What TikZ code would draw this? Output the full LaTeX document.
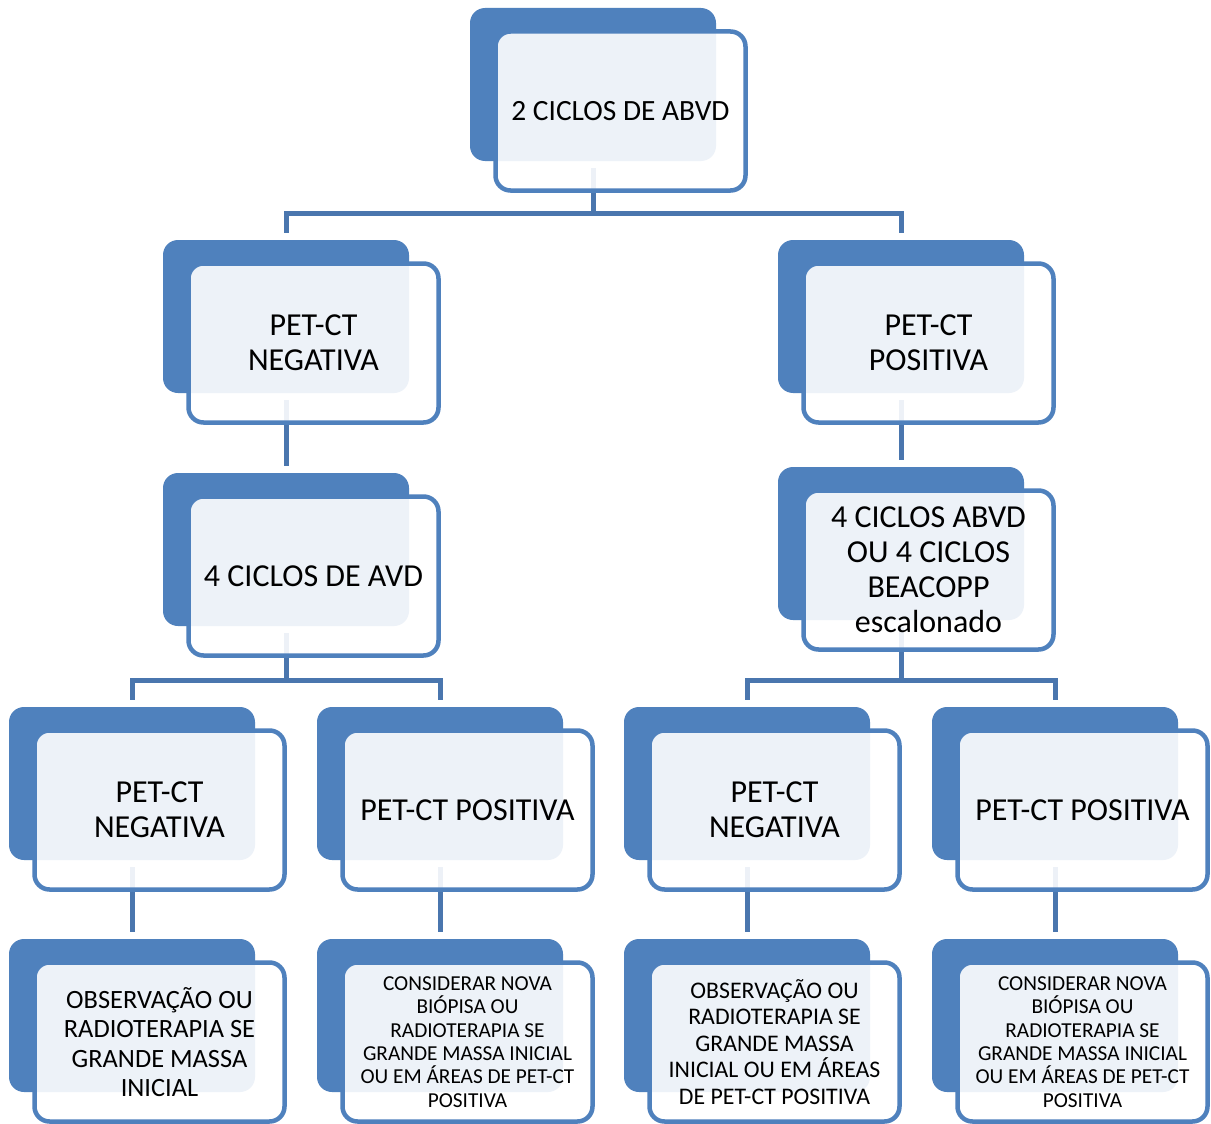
\documentclass[tikz,border=0pt]{standalone}
\usepackage{fontspec}
\setmainfont{Carlito}
\usetikzlibrary{calc}

\definecolor{accent}{HTML}{4F81BD}
\definecolor{linkc}{HTML}{4A76AE}

\tikzset{
  backbox/.style={shape=rectangle, fill=accent, rounded corners=15pt,
    minimum width=246pt, minimum height=153pt, inner sep=0pt, outer sep=0pt,
    anchor=north west},
  frontbox/.style={shape=rectangle, draw=accent, line width=4.5pt,
    fill=white, fill opacity=0.9, draw opacity=1, text opacity=1,
    rounded corners=15pt, minimum width=250pt, minimum height=159pt,
    inner sep=2pt, outer sep=0pt, align=flush center, text width=244pt},
  conn/.style={draw=linkc, line width=5pt},
  toptext/.style={font=\fontsize{29.4}{35}\selectfont},
  bigtext/.style={font=\fontsize{32}{35}\selectfont},
  midtext/.style={font=\fontsize{26.4}{29.3}\selectfont},
  smalltext/.style={font=\fontsize{23.8}{26.5}\selectfont},
  tinytext/.style={font=\fontsize{21.3}{23.4}\selectfont},
}

\begin{document}
\begin{tikzpicture}[x=1pt, y=-1pt]
  \useasboundingbox (0,0) rectangle (1211,1124);
  \fill[white] (0,0) rectangle (1211,1124);

  % back plates
  \node[backbox] (b0)  at (470,8)   {};
  \node[backbox] (b1l) at (163,240) {};
  \node[backbox] (b1r) at (778,240) {};
  \node[backbox] (b2l) at (163,473) {};
  \node[backbox] (b2r) at (778,467) {};
  \node[backbox] (b3a) at (9,707)   {};
  \node[backbox] (b3b) at (317,707) {};
  \node[backbox] (b3c) at (624,707) {};
  \node[backbox] (b3d) at (932,707) {};
  \node[backbox] (b4a) at (9,939)   {};
  \node[backbox] (b4b) at (317,939) {};
  \node[backbox] (b4c) at (624,939) {};
  \node[backbox] (b4d) at (932,939) {};

  % connectors (underneath the front cards)
  \foreach \p/\c in {b0/b1l, b0/b1r, b2l/b3a, b2l/b3b, b2r/b3c, b2r/b3d}
    \draw[conn] ($(\p.south)+(0,7)$) |- ($(\c.north)+(0,-27)$) -- ($(\c.north)+(0,-7)$);
  \foreach \p/\c in {b1l/b2l, b1r/b2r, b3a/b4a, b3b/b4b, b3c/b4c, b3d/b4d}
    \draw[conn] ($(\p.south)+(0,7)$) -- ($(\c.north)+(0,-7)$);

  % front cards with the texts
  \node[frontbox, toptext] (f0)  at ($(b0.north west)+(150.5,103)$)  {2 CICLOS DE ABVD};
  \node[frontbox, bigtext] (f1l) at ($(b1l.north west)+(150.5,103)$) {PET-CT\\NEGATIVA};
  \node[frontbox, bigtext] (f1r) at ($(b1r.north west)+(150.5,103)$) {PET-CT\\POSITIVA};
  \node[frontbox, bigtext] (f2l) at ($(b2l.north west)+(150.5,103)$) {4 CICLOS DE AVD};
  \node[frontbox, bigtext] (f2r) at ($(b2r.north west)+(150.5,103)$) {4 CICLOS ABVD\\OU 4 CICLOS\\BEACOPP\\escalonado};
  \node[frontbox, bigtext] (f3a) at ($(b3a.north west)+(150.5,103)$) {PET-CT\\NEGATIVA};
  \node[frontbox, bigtext] (f3b) at ($(b3b.north west)+(150.5,103)$) {PET-CT POSITIVA};
  \node[frontbox, bigtext] (f3c) at ($(b3c.north west)+(150.5,103)$) {PET-CT\\NEGATIVA};
  \node[frontbox, bigtext] (f3d) at ($(b3d.north west)+(150.5,103)$) {PET-CT POSITIVA};
  \node[frontbox, midtext] (f4a) at ($(b4a.north west)+(150.5,103)$) {OBSERVAÇÃO OU\\RADIOTERAPIA SE\\GRANDE MASSA\\INICIAL};
  \node[frontbox, tinytext] (f4b) at ($(b4b.north west)+(150.5,103)$) {CONSIDERAR NOVA\\BIÓPISA OU\\RADIOTERAPIA SE\\GRANDE MASSA INICIAL\\OU EM ÁREAS DE PET-CT\\POSITIVA};
  \node[frontbox, smalltext] (f4c) at ($(b4c.north west)+(150.5,103)$) {OBSERVAÇÃO OU\\RADIOTERAPIA SE\\GRANDE MASSA\\INICIAL OU EM ÁREAS\\DE PET-CT POSITIVA};
  \node[frontbox, tinytext] (f4d) at ($(b4d.north west)+(150.5,103)$) {CONSIDERAR NOVA\\BIÓPISA OU\\RADIOTERAPIA SE\\GRANDE MASSA INICIAL\\OU EM ÁREAS DE PET-CT\\POSITIVA};
\end{tikzpicture}
\end{document}
